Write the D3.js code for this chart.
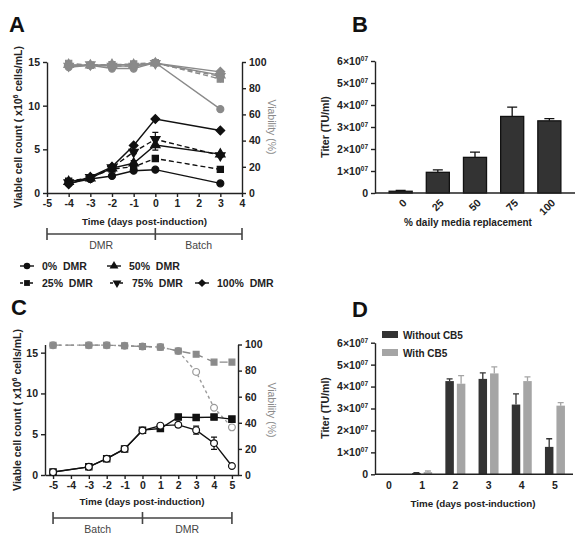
<!DOCTYPE html>
<html lang="en">
<head>
<meta charset="UTF-8">
<title>DMR cultures and titer</title>
<script src="https://cdn.jsdelivr.net/npm/d3@7"></script>
<style>
  body { margin: 0; background: #fff; }
  svg { font-family: "Liberation Sans", Arial, sans-serif; font-weight: bold; }
</style>
</head>
<body>
<svg width="585" height="545"></svg>
<script>
    // ---- panel A: cell count / viability under daily media replacement
    const daysA = [-4, -3, -2, -1, 0, 3];
    const dmrNames = ["0% DMR", "25% DMR", "50% DMR", "75% DMR", "100% DMR"];
    const cellsA0 = [1.1, 1.6, 1.95, 2.55, 2.67, 1.1];
    const cellsA25 = [1.35, 1.75, 2.75, 3.0, 3.95, 2.7];
    const cellsA50 = [1.3, 1.7, 2.85, 3.4, 5.5, 4.45];
    const cellsA75 = [1.2, 1.8, 2.9, 4.7, 6.15, 4.3];
    const cellsA100 = [1.0, 1.85, 3.0, 5.45, 8.47, 7.15];
    const errA50 = [0.1, 0.1, 0.15, 0.3, 0.6, 0.15];
    const errA75 = [0.1, 0.1, 0.1, 0.2, 0.8, 0.2];
    const viabA0 = [96, 97.5, 95, 95, 99.5, 64];
    const viabA25 = [99, 97.5, 98, 98.5, 99.5, 87];
    const viabA50 = [98, 97.5, 98, 98, 99, 90];
    const viabA75 = [97, 98, 97, 97, 99, 89];
    const viabA100 = [97, 97.5, 97, 97, 99, 92.5];

    // ---- panel B: titer vs % daily media replacement
    const dmrPercent = ["0", "25", "50", "75", "100"];
    const titerB = [0.08e7, 0.94e7, 1.62e7, 3.48e7, 3.28e7];
    const titerErrB = [0.04e7, 0.11e7, 0.24e7, 0.42e7, 0.1e7];

    // ---- panel C: batch then DMR
    const daysC = [-5, -3, -2, -1, 0, 1, 2, 3, 4, 5];
    const cellsCB5 = [0.37, 1.0, 2.0, 3.2, 5.5, 5.7, 7.1, 7.05, 7.1, 6.85];
    const cellsNoCB5 = [0.35, 1.0, 2.0, 3.2, 5.45, 6.05, 6.15, 5.5, 3.9, 1.1];
    const errNoCB5 = [0, 0, 0, 0, 0.1, 0.1, 0.25, 0.5, 0.75, 0.1];
    const viabCB5 = [99.5, 99.5, 99.5, 99, 98.5, 98, 95, 92.5, 86.5, 86.5];
    const viabNoCB5 = [99.5, 99.5, 99.5, 99, 98.5, 98, 95, 79, 51.5, 36.5];

    // ---- panel D: titer per day
    const daysD = ["0", "1", "2", "3", "4", "5"];
    const titerWithout = [0, 0.06e7, 4.25e7, 4.35e7, 3.18e7, 1.25e7];
    const titerWithoutErr = [0, 0.02e7, 0.1e7, 0.27e7, 0.49e7, 0.37e7];
    const titerWith = [0, 0.1e7, 4.13e7, 4.6e7, 4.25e7, 3.13e7];
    const titerWithErr = [0, 0.05e7, 0.37e7, 0.3e7, 0.19e7, 0.14e7];
    const legendD = ["Without CB5", "With CB5"];

    const ink = "#222", grey = "#8a8a8a", dark = "#333", light = "#a5a5a5";
    const svg = d3.select("svg");

    function styleAxis(g) {
        g.attr("font-family", null).attr("font-size", null);
        g.select(".domain").attr("stroke", ink).attr("stroke-width", 1.4);
        g.selectAll(".tick line").attr("stroke", ink).attr("stroke-width", 1.4);
        g.selectAll(".tick text").attr("fill", ink).style("font-size", "10.5px");
    }

    const shapes = {
        circle: [d3.symbolCircle, 0], square: [d3.symbolSquare, 0], tri: [d3.symbolTriangle, 0],
        tridown: [d3.symbolTriangle, 180], diamond: [d3.symbolSquare, 45]
    };

    function plotSeries(g, x, y, xs, ys, o) {
        const pts = xs.map((d, i) => [d, ys[i], o.err ? o.err[i] : 0]);
        g.append("path").datum(pts)
            .attr("fill", "none")
            .attr("stroke", o.color)
            .attr("stroke-width", 1.4)
            .attr("stroke-dasharray", o.dash || null)
            .attr("d", d3.line().x(d => x(d[0])).y(d => y(d[1])));
        g.append("g").attr("stroke", o.color).attr("stroke-width", 1.2).attr("fill", "none")
            .selectAll("path")
            .data(pts.filter(d => d[2] > 0.15))
            .join("path")
            .attr("d", d => {
                const cx = x(d[0]), y0 = y(d[1] - d[2]), y1 = y(d[1] + d[2]);
                return `M${cx},${y0}V${y1}M${cx - 3},${y1}h6M${cx - 3},${y0}h6`;
            });
        const s = shapes[o.shape];
        g.append("g").selectAll("path")
            .data(pts)
            .join("path")
            .attr("transform", d => `translate(${x(d[0])},${y(d[1])}) rotate(${s[1]})`)
            .attr("d", d3.symbol(s[0], o.size || 38))
            .attr("fill", o.fill || o.color)
            .attr("stroke", o.color)
            .attr("stroke-width", 1.2);
    }

    function panelLetter(t, x, y) {
        svg.append("text").attr("x", x).attr("y", y).attr("font-size", 22).attr("fill", "#111").text(t);
    }

    function cellTitle(cx, cy) {
        const t = svg.append("text")
            .attr("transform", `translate(${cx},${cy}) rotate(-90)`)
            .attr("text-anchor", "middle")
            .attr("font-size", 10.5)
            .attr("fill", ink);
        t.append("tspan").text("Viable cell count ( x10");
        t.append("tspan").attr("dy", -4).attr("font-size", 7).text("6");
        t.append("tspan").attr("dy", 4).text(" cells/mL)");
    }

    function viabTitle(cx, cy) {
        svg.append("text")
            .attr("transform", `translate(${cx},${cy}) rotate(90)`)
            .attr("text-anchor", "middle")
            .attr("font-size", 10.5)
            .attr("font-weight", "normal")
            .attr("fill", grey)
            .text("Viability (%)");
    }

    function bracket(x, xs, y, labels) {
        const g = svg.append("g").attr("stroke", "#444").attr("stroke-width", 1.6);
        g.append("line").attr("x1", x(xs[0])).attr("x2", x(xs[2])).attr("y1", y).attr("y2", y);
        g.selectAll(".end").data(xs).join("line")
            .attr("x1", d => x(d)).attr("x2", d => x(d)).attr("y1", y - 6).attr("y2", y + 6);
        svg.selectAll(null).data(labels).join("text")
            .attr("x", (d, i) => (x(xs[i]) + x(xs[i + 1])) / 2)
            .attr("y", y + 15)
            .attr("text-anchor", "middle")
            .attr("font-size", 10.5)
            .attr("font-weight", "normal")
            .attr("fill", "#444")
            .text(d => d);
    }

    function sciTicks(g) {
        g.selectAll(".tick text").each(function (d) {
            const t = d3.select(this).text(null);
            if (d === 0) { t.text("0"); return; }
            t.append("tspan").text((d / 1e7) + "\u00d710");
            t.append("tspan").attr("dy", -4).attr("font-size", 6.5).text("07");
        });
    }

    function titerTitle(cx, cy) {
        svg.append("text")
            .attr("transform", `translate(${cx},${cy}) rotate(-90)`)
            .attr("text-anchor", "middle")
            .attr("font-size", 10.5)
            .attr("fill", ink)
            .text("Titer (TU/ml)");
    }

    // ================= A
    panelLetter("A", 9, 32);
    const xA = d3.scaleLinear().domain([-5, 4]).range([47, 242]);
    const yA = d3.scaleLinear().domain([0, 15]).range([193, 62]);
    const vA = d3.scaleLinear().domain([0, 100]).range([193, 62]);

    svg.append("g").attr("transform", "translate(0,193)")
        .call(d3.axisBottom(xA).tickValues(d3.range(-5, 5)).tickFormat(d => String(d)).tickSize(4).tickSizeOuter(0))
        .call(styleAxis);
    svg.append("g").attr("transform", "translate(47,0)")
        .call(d3.axisLeft(yA).tickValues([0, 5, 10, 15]).tickSize(4).tickSizeOuter(0))
        .call(styleAxis);
    svg.append("g").attr("transform", "translate(242,0)")
        .call(d3.axisRight(vA).tickValues([0, 20, 40, 60, 80, 100]).tickSize(4).tickSizeOuter(0))
        .call(styleAxis);

    const seriesA = [
        {name: dmrNames[0], cells: cellsA0, viab: viabA0, shape: "circle", dash: null},
        {name: dmrNames[1], cells: cellsA25, viab: viabA25, shape: "square", dash: "5,3"},
        {name: dmrNames[2], cells: cellsA50, viab: viabA50, shape: "tri", dash: null, err: errA50},
        {name: dmrNames[3], cells: cellsA75, viab: viabA75, shape: "tridown", dash: "5,3", err: errA75},
        {name: dmrNames[4], cells: cellsA100, viab: viabA100, shape: "diamond", dash: null}
    ];
    const gA = svg.append("g");
    seriesA.forEach(s => plotSeries(gA, xA, vA, daysA, s.viab, {color: grey, shape: s.shape, dash: s.dash}));
    seriesA.forEach(s => plotSeries(gA, xA, yA, daysA, s.cells, {color: "#111", shape: s.shape, dash: s.dash, err: s.err}));

    svg.append("text").attr("x", xA(-0.5)).attr("y", 225).attr("text-anchor", "middle")
        .attr("font-size", 9.8).attr("fill", ink).text("Time (days post-induction)");
    cellTitle(22, 127);
    viabTitle(268, 127);
    bracket(xA, [-5, 0, 4], 234, ["DMR", "Batch"]);

    // legend A
    const legPos = [[20, 266], [20, 283], [107, 266], [110, 283], [195, 283]];
    seriesA.forEach((s, i) => {
        const [lx, ly] = legPos[i];
        const g = svg.append("g");
        g.append("line").attr("x1", lx).attr("x2", lx + 14).attr("y1", ly).attr("y2", ly)
            .attr("stroke", "#111").attr("stroke-width", 1.4).attr("stroke-dasharray", s.dash ? "3,2" : null);
        const sh = shapes[s.shape];
        g.append("path").attr("transform", `translate(${lx + 7},${ly}) rotate(${sh[1]})`)
            .attr("d", d3.symbol(sh[0], 34)).attr("fill", "#111");
        g.append("text").attr("x", lx + 22).attr("y", ly + 4).attr("font-size", 10.5).attr("fill", ink)
            .style("white-space", "pre").text(s.name.replace(" ", "  "));
    });

    // ================= B
    panelLetter("B", 352, 32);
    const xB = d3.scaleBand().domain(dmrPercent).range([375, 575]).padding(0.38);
    const yB = d3.scaleLinear().domain([0, 6e7]).range([193, 61]);
    svg.append("g").attr("transform", "translate(375,0)")
        .call(d3.axisLeft(yB).tickValues(d3.range(0, 7e7, 1e7)).tickSize(4).tickSizeOuter(0))
        .call(styleAxis).call(sciTicks);
    const gB = svg.append("g");
    gB.selectAll("path.err").data(dmrPercent).join("path")
        .attr("fill", "none").attr("stroke", "#111").attr("stroke-width", 1.3)
        .attr("d", (d, i) => {
            const cx = xB(d) + xB.bandwidth() / 2, y1 = yB(titerB[i] + titerErrB[i]);
            return `M${cx},${yB(titerB[i])}V${y1}M${cx - 5},${y1}h10`;
        });
    gB.selectAll("rect").data(dmrPercent).join("rect")
        .attr("x", d => xB(d)).attr("width", xB.bandwidth())
        .attr("y", (d, i) => yB(titerB[i])).attr("height", (d, i) => 193 - yB(titerB[i]))
        .attr("fill", dark).attr("stroke", "#111").attr("stroke-width", 1.3);
    svg.append("line").attr("x1", 375).attr("x2", 575).attr("y1", 193).attr("y2", 193)
        .attr("stroke", ink).attr("stroke-width", 1.4);
    // slanted category labels
    svg.append("g").selectAll("text").data(dmrPercent).join("text")
        .attr("transform", d => `translate(${xB(d) + xB.bandwidth() / 2 + 4},${201}) rotate(-45)`)
        .attr("text-anchor", "end")
        .attr("dy", "0.35em")
        .attr("font-size", 10.5)
        .attr("fill", ink)
        .text(d => d);
    svg.append("text").attr("x", 468).attr("y", 226).attr("text-anchor", "middle")
        .attr("font-size", 10).attr("fill", ink).text("% daily media replacement");
    titerTitle(329, 127);

    // ================= C
    panelLetter("C", 11, 315);
    const xC = d3.scaleLinear().domain([-5.45, 5.34]).range([45, 238]);
    const yC = d3.scaleLinear().domain([0, 16]).range([475, 344.5]);
    const vC = d3.scaleLinear().domain([0, 100]).range([475, 344.5]);
    svg.append("g").attr("transform", "translate(0,475)")
        .call(d3.axisBottom(xC).tickValues(d3.range(-5, 6)).tickFormat(d => String(d)).tickSize(4).tickSizeOuter(0))
        .call(styleAxis);
    svg.append("g").attr("transform", "translate(45,0)")
        .call(d3.axisLeft(yC).tickValues([0, 5, 10, 15]).tickSize(4).tickSizeOuter(0))
        .call(styleAxis);
    svg.append("g").attr("transform", "translate(238,0)")
        .call(d3.axisRight(vC).tickValues([0, 20, 40, 60, 80, 100]).tickSize(4).tickSizeOuter(0))
        .call(styleAxis);
    const gC = svg.append("g");
    plotSeries(gC, xC, vC, daysC, viabNoCB5, {color: "#999", shape: "circle", dash: "3,3", fill: "#fff", size: 36});
    plotSeries(gC, xC, vC, daysC, viabCB5, {color: grey, shape: "square", dash: "8,5", size: 34});
    plotSeries(gC, xC, yC, daysC, cellsCB5, {color: "#111", shape: "square", size: 40});
    plotSeries(gC, xC, yC, daysC, cellsNoCB5, {color: "#111", shape: "circle", fill: "#fff", err: errNoCB5, size: 36});
    svg.append("text").attr("x", 142).attr("y", 505).attr("text-anchor", "middle")
        .attr("font-size", 9.8).attr("fill", ink).text("Time (days post-induction)");
    cellTitle(21, 410);
    viabTitle(268, 410);
    bracket(xC, [-5, 0, 5], 518, ["Batch", "DMR"]);

    // ================= D
    panelLetter("D", 352, 317);
    const xD = d3.scaleBand().domain(daysD).range([370.7, 573.2]).paddingInner(0.3).paddingOuter(0.2);
    const yD = d3.scaleLinear().domain([0, 6e7]).range([474.3, 342.7]);
    svg.append("g").attr("transform", "translate(375,0)")
        .call(d3.axisLeft(yD).tickValues(d3.range(0, 7e7, 1e7)).tickSize(4).tickSizeOuter(0))
        .call(styleAxis).call(sciTicks);
    const groupsD = [
        {vals: titerWithout, errs: titerWithoutErr, fill: dark, off: -10},
        {vals: titerWith, errs: titerWithErr, fill: light, off: 1.5}
    ];
    groupsD.forEach(gr => {
        const g = svg.append("g");
        g.selectAll("path").data(daysD).join("path")
            .attr("fill", "none").attr("stroke", gr.fill).attr("stroke-width", 1.3)
            .attr("d", (d, i) => {
                if (gr.errs[i] <= 0) return null;
                const cx = xD(d) + xD.bandwidth() / 2 + gr.off + 4.25, y1 = yD(gr.vals[i] + gr.errs[i]);
                return `M${cx},${yD(gr.vals[i])}V${y1}M${cx - 3},${y1}h6`;
            });
        g.selectAll("rect").data(daysD).join("rect")
            .attr("x", d => xD(d) + xD.bandwidth() / 2 + gr.off).attr("width", 8.5)
            .attr("y", (d, i) => yD(gr.vals[i])).attr("height", (d, i) => 474.3 - yD(gr.vals[i]))
            .attr("fill", gr.fill);
    });
    svg.append("g").attr("transform", "translate(0,474.3)")
        .call(d3.axisBottom(xD).tickSize(0).tickPadding(7).tickSizeOuter(0))
        .call(styleAxis)
        .call(g => g.select(".domain").remove());
    svg.append("line").attr("x1", 375).attr("x2", 573).attr("y1", 474.3).attr("y2", 474.3)
        .attr("stroke", ink).attr("stroke-width", 1.4);
    svg.append("text").attr("x", 473).attr("y", 507).attr("text-anchor", "middle")
        .attr("font-size", 9.8).attr("fill", ink).text("Time (days post-induction)");
    titerTitle(329, 408);
    legendD.forEach((name, i) => {
        svg.append("rect").attr("x", 382).attr("y", 331 + i * 18).attr("width", 16).attr("height", 7)
            .attr("fill", groupsD[i].fill);
        svg.append("text").attr("x", 403).attr("y", 338.5 + i * 18).attr("font-size", 10)
            .attr("fill", ink).text(name);
    });
</script>
</body>
</html>
